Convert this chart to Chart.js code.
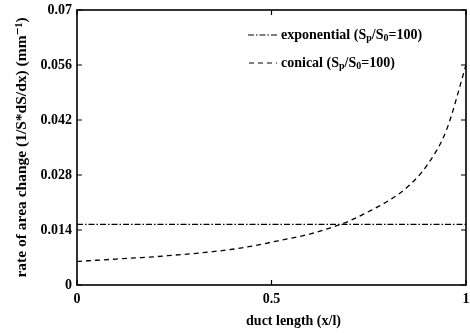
<!DOCTYPE html>
<html>
<head>
<meta charset="utf-8">
<script src="https://cdn.jsdelivr.net/npm/chart.js@4.4.1/dist/chart.umd.min.js"></script>
<style>
  html, body { margin: 0; padding: 0; background: #fff; }
  #wrap { width: 470px; height: 333px; position: relative; }
</style>
</head>
<body>
<div id="wrap"><canvas id="areaChart"></canvas></div>
<script>
// duct position (x/l) and rate of area change (mm^-1)
const ductPos = [0, 0.05, 0.1, 0.15, 0.2, 0.25, 0.3, 0.35, 0.4, 0.45, 0.5,
                 0.55, 0.6, 0.65, 0.7, 0.75, 0.8, 0.85, 0.9, 0.95, 1];
const conical = [0.0060, 0.0063, 0.0066, 0.0069, 0.0072, 0.0076, 0.0080, 0.0085,
                 0.0091, 0.0099, 0.0109, 0.0119, 0.0130, 0.0145, 0.0163, 0.0187,
                 0.0214, 0.0250, 0.0305, 0.0395, 0.0560];
const expPos = [0, 1];
const exponential = [0.01545, 0.01545];

const yTicks = [0, 0.014, 0.028, 0.042, 0.056, 0.07];
const yTickLabels = ["0", "0.014", "0.028", "0.042", "0.056", "0.07"];
const xTicks = [0, 0.5, 1];
const xTickLabels = ["0", "0.5", "1"];
const xTitle = "duct length (x/l)";

const legendItems = [
    { name: "exponential", ratio: "100", dash: [6, 2, 1.5, 2] },
    { name: "conical", ratio: "100", dash: [5, 4] }
];

const serif = "'Liberation Serif', 'DejaVu Serif', serif";

function pairs(xs, ys) {
    return xs.map(function (x, i) { return { x: x, y: ys[i] }; });
}

// frame with inward ticks on all four sides, plus the x title
const framePlugin = {
    id: "frame",
    afterDraw(chart) {
        const ctx = chart.ctx;
        const a = chart.chartArea;
        const xs = chart.scales.x;
        const ys = chart.scales.y;
        ctx.save();
        ctx.strokeStyle = "#000";
        ctx.lineWidth = 1.6;
        ctx.strokeRect(a.left, a.top, a.right - a.left, a.bottom - a.top);
        ctx.lineWidth = 1.2;
        ctx.beginPath();
        yTicks.forEach(function (v) {
            const py = ys.getPixelForValue(v);
            ctx.moveTo(a.left, py); ctx.lineTo(a.left + 5, py);
            ctx.moveTo(a.right, py); ctx.lineTo(a.right - 5, py);
        });
        xTicks.forEach(function (v) {
            const px = xs.getPixelForValue(v);
            ctx.moveTo(px, a.bottom); ctx.lineTo(px, a.bottom - 5);
            ctx.moveTo(px, a.top); ctx.lineTo(px, a.top + 5);
        });
        ctx.stroke();

        ctx.fillStyle = "#000";
        ctx.font = "bold 14px " + serif;
        ctx.textAlign = "center";
        ctx.textBaseline = "middle";
        ctx.fillText(xTitle, (a.left + a.right) / 2 + 22, a.bottom + 36);
        ctx.restore();
    }
};

// legend inside the plot, top right
const legendPlugin = {
    id: "innerLegend",
    afterDraw(chart) {
        const ctx = chart.ctx;
        const rows = [
            { y: 35, x0: 248, x1: 278 },
            { y: 63, x0: 249, x1: 277 }
        ];
        ctx.save();
        legendItems.forEach(function (item, i) {
            const r = rows[i];
            ctx.strokeStyle = "#000";
            ctx.lineWidth = 1.2;
            ctx.setLineDash(item.dash);
            ctx.beginPath();
            ctx.moveTo(r.x0, r.y);
            ctx.lineTo(r.x1, r.y);
            ctx.stroke();
            ctx.setLineDash([]);

            ctx.fillStyle = "#000";
            ctx.textBaseline = "middle";
            ctx.textAlign = "left";
            const big = "bold 14px " + serif;
            const small = "bold 10px " + serif;
            let x = 281;
            const parts = [
                [item.name + " (S", big, 0],
                ["p", small, 3],
                ["/S", big, 0],
                ["0", small, 3],
                ["=" + item.ratio + ")", big, 0]
            ];
            parts.forEach(function (p) {
                ctx.font = p[1];
                ctx.fillText(p[0], x, r.y + p[2]);
                x += ctx.measureText(p[0]).width;
            });
        });
        ctx.restore();
    }
};

new Chart(document.getElementById("areaChart"), {
    type: "line",
    data: {
        datasets: [
            {
                label: "exponential",
                data: pairs(expPos, exponential),
                borderColor: "#000",
                borderWidth: 1.2,
                borderDash: [6, 2, 1.5, 2],
                pointRadius: 0,
                fill: false
            },
            {
                label: "conical",
                data: pairs(ductPos, conical),
                borderColor: "#000",
                borderWidth: 1.3,
                borderDash: [5, 4],
                pointRadius: 0,
                tension: 0.4,
                cubicInterpolationMode: "monotone",
                fill: false
            }
        ]
    },
    options: {
        responsive: true,
        maintainAspectRatio: false,
        animation: false,
        layout: { padding: { left: 0, right: 4, top: 10, bottom: 0 } },
        plugins: {
            legend: { display: false },
            tooltip: { enabled: false }
        },
        scales: {
            x: {
                type: "linear",
                min: 0,
                max: 1,
                afterBuildTicks(scale) {
                    scale.ticks = xTicks.map(function (v) { return { value: v }; });
                },
                afterFit(scale) {
                    scale.height = 48;
                    scale.paddingLeft = 0;
                    scale.paddingRight = 0;
                },
                grid: { display: false, drawTicks: false },
                border: { display: false },
                ticks: {
                    padding: 6,
                    color: "#000",
                    font: { family: serif, size: 14, weight: "bold" },
                    callback: function (v) { return xTickLabels[xTicks.indexOf(v)]; }
                },
                title: { display: false }
            },
            y: {
                type: "linear",
                min: 0,
                max: 0.07,
                afterBuildTicks(scale) {
                    scale.ticks = yTicks.map(function (v) { return { value: v }; });
                },
                afterFit(scale) {
                    scale.width = 77;
                    scale.paddingTop = 0;
                    scale.paddingBottom = 0;
                },
                grid: { display: false, drawTicks: false },
                border: { display: false },
                ticks: {
                    padding: 5,
                    color: "#000",
                    font: { family: serif, size: 14, weight: "bold" },
                    callback: function (v) { return yTickLabels[yTicks.indexOf(v)]; }
                },
                title: {
                    display: true,
                    text: "rate of area change (1/S*dS/dx) (mm\u207B\u00B9)",
                    color: "#000",
                    padding: { top: 13, bottom: 13 },
                    font: { family: serif, size: 15.5, weight: "bold" }
                }
            }
        }
    },
    plugins: [framePlugin, legendPlugin]
});
</script>
</body>
</html>
